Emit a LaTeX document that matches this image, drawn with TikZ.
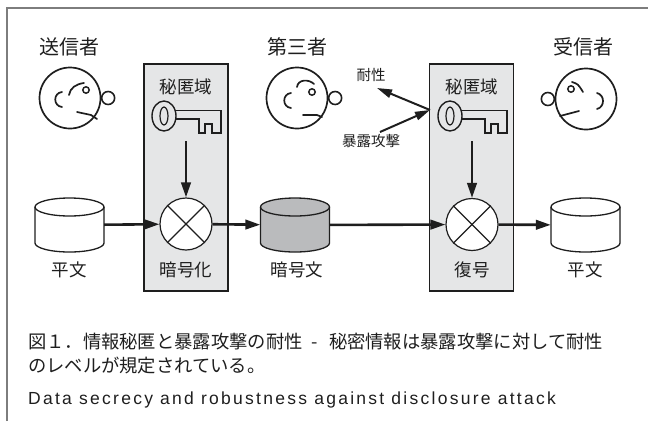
\documentclass[tikz,border=0pt]{standalone}
\usepackage{fontspec}
\setmainfont{Liberation Sans}
\newfontfamily\jp{Noto Sans CJK JP}
\newfontfamily\en[LetterSpace=13]{Liberation Sans}
\usetikzlibrary{positioning,shapes.geometric,arrows.meta}
\definecolor{panelgray}{RGB}{229,230,231}
\definecolor{ciphergray}{RGB}{186,187,189}
\definecolor{framegray}{RGB}{125,125,125}
\definecolor{ink}{RGB}{30,30,30}

% key drawn around the centre of its bow
\tikzset{
  keyicon/.pic={
    \draw[ink, line width=1.4pt] (0,0) ellipse (12 and 15);
    \draw[ink, line width=1.2pt] (0,0) ellipse (4 and 9);
    \draw[ink, line width=1.4pt, line join=miter]
      (11.2,-5.5) -- (57,-5.5) -- (57,17) -- (48,17) -- (48,8) -- (41,8) -- (41,17)
      -- (35,17) -- (35,3) -- (11.5,3);
  },
  % drum of data, centred on its node
  drum/.pic={
    \filldraw[fill=\drumfill, draw=ink, line width=1.3pt]
      (-34.5,-18) -- (-34.5,18) arc[start angle=180, end angle=0, x radius=34.5, y radius=9]
      -- (34.5,-18) arc[start angle=0, end angle=-180, x radius=34.5, y radius=9] -- cycle;
    \draw[ink, line width=1.3pt]
      (-34.5,-18) arc[start angle=180, end angle=0, x radius=34.5, y radius=9];
  }
}
\newcommand\drumfill{white}

\begin{document}
\begin{tikzpicture}[
    x=1pt, y=-1pt,
    role/.style={font=\jp\fontsize{20}{24}\selectfont, text=ink, inner sep=0pt},
    lbl/.style={font=\jp\fontsize{17.5}{21}\selectfont, text=ink, inner sep=0pt},
    captext/.style={font=\jp\fontsize{18.3}{22}\selectfont, text=ink, inner sep=0pt, anchor=west},
    small/.style={font=\jp\fontsize{14.5}{17}\selectfont, text=ink, inner sep=0pt},
    panel/.style={draw=ink, fill=panelgray, line width=1.2pt, minimum width=84pt, minimum height=227pt, inner sep=0pt},
    db/.style={rectangle, minimum width=69pt, minimum height=54pt, inner sep=0pt},
    mix/.style={circle, draw=ink, line width=1.2pt, minimum size=52pt, inner sep=0pt, fill=white},
    head/.style={circle, draw=ink, line width=1.7pt, minimum size=61pt, inner sep=0pt},
    ear/.style={circle, draw=ink, line width=1.6pt, minimum size=13pt, inner sep=0pt},
    feature/.style={draw=ink, line width=1.7pt, line cap=round},
    arr/.style={-{Triangle[length=15pt,width=9.5pt]}, draw=ink, line width=2.6pt},
    thinarr/.style={-{Triangle[length=15pt,width=8.5pt]}, draw=ink, line width=2pt},
]
\useasboundingbox (0,0) rectangle (648,421);

% page frame
\draw[framegray, line width=2pt] (7,421) -- (7,8) -- (648,8);

% key panels
\node[panel] (encpanel) at (186,177.5) {};
\node[panel] (decpanel) at (471.5,177.5) {};
\node[lbl] (enckey) at (186,87) {秘匿域};
\node[lbl] (deckey) at (472,87) {秘匿域};
\pic at (164,116) {keyicon};
\pic at (450,116) {keyicon};
\coordinate (enckeyend) at (186,141);
\coordinate (deckeyend) at (472,141);

% people
\node[role] (sendername) at (69,47) {送信者};
\node[role] (evename) at (297,47) {第三者};
\node[role] (recvname) at (583,47) {受信者};

\node[head] (sender) at (70,98) {};
\node[ear, right=-0.5pt of sender] (senderear) {};
\begin{scope}[shift={(sender.center)}]
  \draw[feature] (-8,-6) .. controls (-17,-5) and (-17,8) .. (-8,9);
  \draw[ink, line width=1.5pt] (16,-8) circle (3.2);
  \draw[feature] (-1,-3) .. controls (0,-10) and (6,-14) .. (14,-15);
  \draw[feature] (7,14) -- (21,17) -- (27,21);
\end{scope}

\node[head] (eve) at (297,98) {};
\node[ear, right=-0.5pt of eve] (eveear) {};
\begin{scope}[shift={(eve.center)}]
  \draw[feature] (-6,-5) .. controls (-15,-4) and (-15,9) .. (-6,10);
  \draw[ink, line width=1.5pt] (15,-6) circle (3.2);
  \draw[feature] (0,-11) .. controls (1,-19) and (12,-19) .. (17,-14);
  \draw[feature] (6,17) -- (20,17) -- (25,19);
\end{scope}

\node[head] (receiver) at (586,99) {};
\node[ear, left=-0.5pt of receiver] (receiverear) {};
\begin{scope}[shift={(receiver.center)}]
  \draw[feature] (11,-6) .. controls (19,-4) and (19,8) .. (11,10);
  \draw[ink, line width=1.5pt] (-15,-10) circle (3.2);
  \draw[feature] (-14,-17) .. controls (-8,-15) .. (-3,-7);
  \draw[feature] (-26,17) -- (-7,12);
\end{scope}

% attack on the decryption key
\node[small] (robust) at (371,75) {耐性};
\node[small] (attack) at (371,141) {暴露攻撃};
\coordinate (keyhit) at (430,110);
\coordinate (robusttip) at (377,88);
\coordinate (attackfoot) at (380,132);
\draw[thinarr] (keyhit) -- (robusttip);
\draw[thinarr] (attackfoot) -- (keyhit);

% data path
\node[db] (plain) at (69.5,225) {};
\node[mix] (enc) at (186,224) {};
\node[db] (cipher) at (295,225) {};
\node[mix] (dec) at (472,224.5) {};
\node[db] (plainout) at (585.5,225) {};
\pic at (plain.center) {drum};
\pic at (plainout.center) {drum};
\renewcommand\drumfill{ciphergray}
\pic at (cipher.center) {drum};
\foreach \m in {enc,dec}{
  \draw[ink, line width=1.2pt] (\m.north west) -- (\m.south east);
  \draw[ink, line width=1.2pt] (\m.north east) -- (\m.south west);
}

\node[lbl] (plainname) at (69,270) {平文};
\node[lbl] (encname) at (186,270) {暗号化};
\node[lbl] (ciphername) at (297,270) {暗号文};
\node[lbl] (decname) at (472,270) {復号};
\node[lbl] (plainoutname) at (585,270) {平文};

\draw[arr] (enckeyend) -- (enc);
\draw[arr] (deckeyend) -- (dec);
\draw[arr] (plain) -- (enc);
\draw[arr] (enc) -- (cipher);
\draw[arr] (cipher) -- (dec);
\draw[arr] (dec) -- (plainout);

% caption
\node[captext] (cap1) at (28,342) {図１．情報秘匿と暴露攻撃の耐性\hspace{9pt}-\hspace{11pt}秘密情報は暴露攻撃に対して耐性};
\node[captext] (cap2) at (28,366) {のレベルが規定されている。};
\node[anchor=west, inner sep=0pt, text=ink, font=\en\fontsize{17.5}{21}\selectfont] (cap3) at (28,400) {Data secrecy and robustness against disclosure attack};

\end{tikzpicture}
\end{document}
